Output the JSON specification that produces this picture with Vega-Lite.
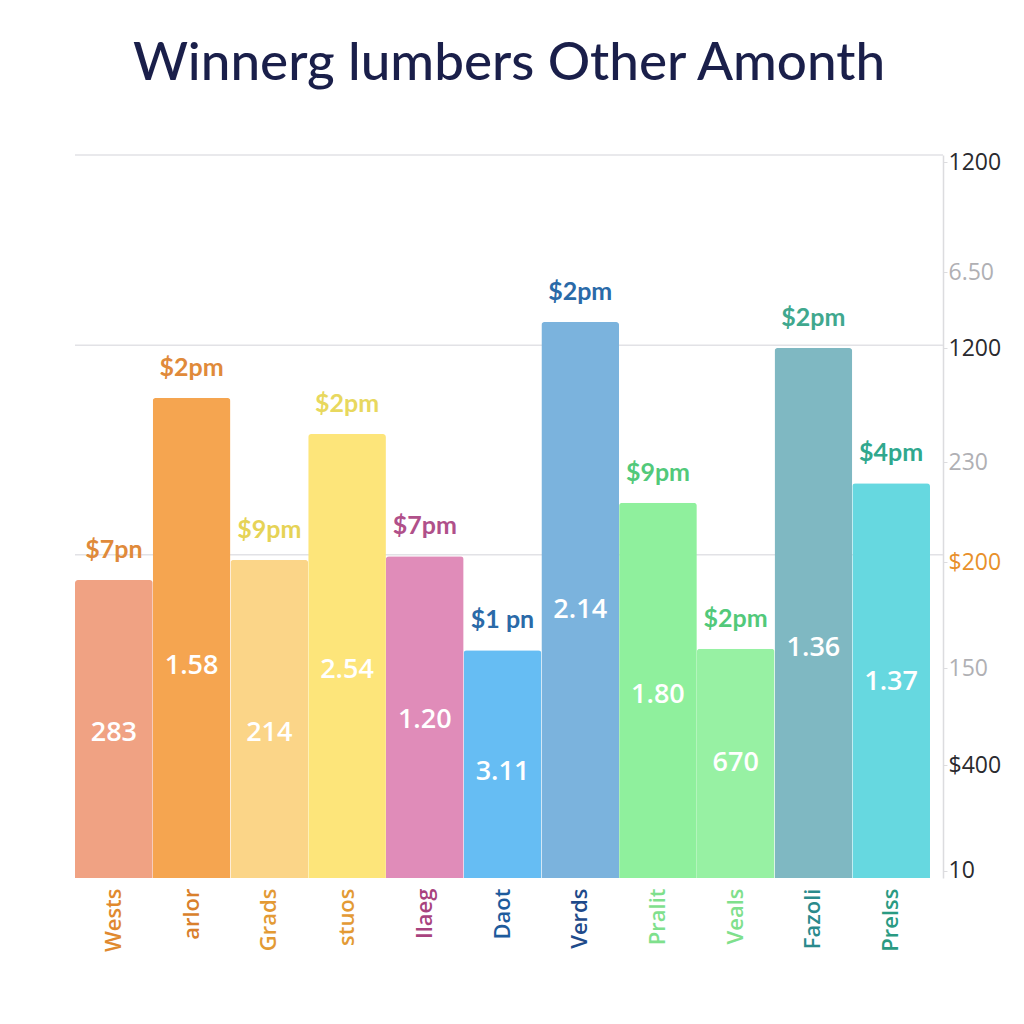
{
  "$schema": "https://vega.github.io/schema/vega-lite/v6.json",
  "width": 868,
  "height": 723,
  "autosize": {"type": "none"},
  "padding": {"left": 75, "top": 155, "right": 81, "bottom": 146},
  "background": "#ffffff",
  "config": {"view": {"stroke": null}},
  "title": {
    "text": "Winnerg lumbers Other Amonth",
    "font": "Lato",
    "fontSize": 53,
    "fontWeight": 500,
    "color": "#1a1f4a",
    "anchor": "middle",
    "offset": 60
  },
  "datasets": {
    "bars": [
      {"name": "Wests", "value": 41.2, "top": "$7pn", "inner": "283", "inner_at": 20.1},
      {"name": "arlor", "value": 66.4, "top": "$2pm", "inner": "1.58", "inner_at": 29.3},
      {"name": "Grads", "value": 44.0, "top": "$9pm", "inner": "214", "inner_at": 20.1},
      {"name": "stuos", "value": 61.4, "top": "$2pm", "inner": "2.54", "inner_at": 28.8},
      {"name": "Ilaeg", "value": 44.5, "top": "$7pm", "inner": "1.20", "inner_at": 21.9},
      {"name": "Daot", "value": 31.5, "top": "$1 pn", "inner": "3.11", "inner_at": 14.7},
      {"name": "Verds", "value": 76.9, "top": "$2pm", "inner": "2.14", "inner_at": 37.1},
      {"name": "Pralit", "value": 51.9, "top": "$9pm", "inner": "1.80", "inner_at": 25.3},
      {"name": "Veals", "value": 31.7, "top": "$2pm", "inner": "670", "inner_at": 15.9},
      {"name": "Fazoli", "value": 73.3, "top": "$2pm", "inner": "1.36", "inner_at": 31.8},
      {"name": "Prelss", "value": 54.6, "top": "$4pm", "inner": "1.37", "inner_at": 27.1}
    ],
    "grid": [{"g": 100}, {"g": 73.7}, {"g": 44.7}]
  },
  "resolve": {"scale": {"color": "independent"}},
  "layer": [
    {
      "data": {"name": "grid"},
      "mark": {"type": "rule", "color": "#e2e2e6", "strokeWidth": 1.5},
      "encoding": {
        "y": {
          "field": "g", "type": "quantitative",
          "scale": {"domain": [0, 100], "nice": false, "zero": true},
          "axis": {
            "title": null,
            "orient": "right",
            "grid": false,
            "values": [99, 83.8, 73.3, 57.5, 43.7, 29, 15.6, 1],
            "labelExpr": "datum.value > 95 ? '1200' : datum.value > 80 ? '6.50' : datum.value > 70 ? '1200' : datum.value > 50 ? '230' : datum.value > 40 ? '$200' : datum.value > 20 ? '150' : datum.value > 10 ? '$400' : '10'",
            "labelFont": "Open Sans",
            "labelFontSize": 23,
            "labelPadding": 1,
            "labelBound": false,
            "labelFlush": false,
            "domainColor": "#dcdcdf",
            "domainWidth": 1.5,
            "tickColor": "#dcdcdf",
            "tickSize": 4,
            "labelColor": {
              "condition": [
                {"test": "datum.value > 80 && datum.value < 90", "value": "#b0b0b4"},
                {"test": "datum.value > 50 && datum.value < 60", "value": "#b0b0b4"},
                {"test": "datum.value > 20 && datum.value < 35", "value": "#b0b0b4"},
                {"test": "datum.value > 40 && datum.value < 50", "value": "#e8902a"}
              ],
              "value": "#2a2a2e"
            }
          }
        }
      }
    },
    {
      "data": {"name": "bars"},
      "mark": {"type": "bar", "cornerRadiusTopLeft": 3, "cornerRadiusTopRight": 3},
      "encoding": {
        "x": {
          "field": "name", "type": "nominal", "sort": null,
          "scale": {"type": "band", "range": [0, 855], "paddingInner": 0, "paddingOuter": 0},
          "axis": {
            "title": null,
            "orient": "bottom",
            "domain": false,
            "ticks": false,
            "labelAngle": -90,
            "labelAlign": "right",
            "labelBaseline": "middle",
            "labelPadding": 10,
            "labelFont": "Open Sans",
            "labelFontSize": 22,
            "labelFontWeight": 600,
            "labelColor": {
              "condition": [
                {"test": "datum.value == 'Wests'", "value": "#e0892e"},
                {"test": "datum.value == 'arlor'", "value": "#d9802c"},
                {"test": "datum.value == 'Grads'", "value": "#e39a34"},
                {"test": "datum.value == 'stuos'", "value": "#e39a34"},
                {"test": "datum.value == 'Ilaeg'", "value": "#a8437e"},
                {"test": "datum.value == 'Daot'", "value": "#1e5b9c"},
                {"test": "datum.value == 'Verds'", "value": "#1e4a8a"},
                {"test": "datum.value == 'Pralit'", "value": "#7fe08c"},
                {"test": "datum.value == 'Veals'", "value": "#7fe08c"},
                {"test": "datum.value == 'Fazoli'", "value": "#2a8a8c"}
              ],
              "value": "#2a9a82"
            }
          }
        },
        "y": {
          "field": "value", "type": "quantitative"
        },
        "color": {
          "field": "name", "type": "nominal", "sort": null,
          "scale": {
            "domain": ["Wests", "arlor", "Grads", "stuos", "Ilaeg", "Daot", "Verds", "Pralit", "Veals", "Fazoli", "Prelss"],
            "range": ["#f0a283", "#f5a550", "#fbd588", "#fde57a", "#e08cb9", "#66bdf3", "#7bb3dd", "#8ff09d", "#97f1a3", "#7fb8c2", "#66d8e0"]
          },
          "legend": null
        }
      }
    },
    {
      "data": {"name": "bars"},
      "mark": {"type": "text", "font": "Lato", "fontSize": 25, "fontWeight": "bold", "baseline": "middle", "dy": -30},
      "encoding": {
        "x": {"field": "name", "type": "nominal", "sort": null, "band": 0.5},
        "y": {"field": "value", "type": "quantitative"},
        "text": {"field": "top"},
        "color": {
          "field": "name", "type": "nominal", "sort": null,
          "scale": {
            "domain": ["Wests", "arlor", "Grads", "stuos", "Ilaeg", "Daot", "Verds", "Pralit", "Veals", "Fazoli", "Prelss"],
            "range": ["#e08a3a", "#e08a3a", "#e6d356", "#e8d85e", "#b0508a", "#2a6aa8", "#2a6aa8", "#52c97a", "#52c97a", "#40a88e", "#30a88e"]
          },
          "legend": null
        }
      }
    },
    {
      "data": {"name": "bars"},
      "mark": {"type": "text", "font": "Open Sans", "fontSize": 27, "fontWeight": 600, "baseline": "middle", "color": "#ffffff"},
      "encoding": {
        "x": {"field": "name", "type": "nominal", "sort": null},
        "y": {"field": "inner_at", "type": "quantitative"},
        "text": {"field": "inner"}
      }
    }
  ]
}
